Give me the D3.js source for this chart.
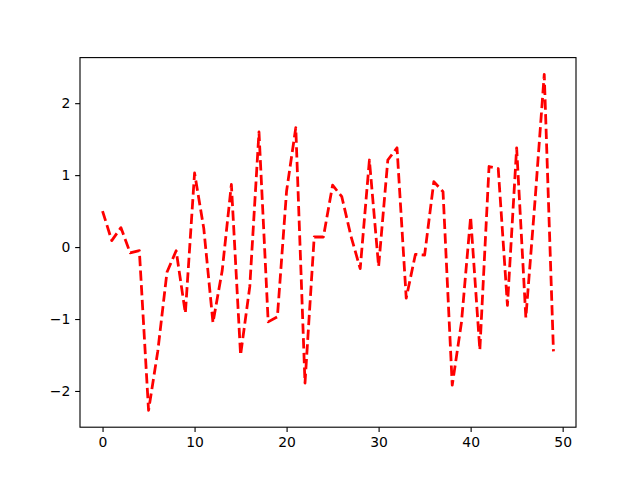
<!DOCTYPE html>
<html>
<head>
<meta charset="utf-8">
<script src="https://cdn.jsdelivr.net/npm/d3@7"></script>
<style>
html, body { margin: 0; padding: 0; background: #fff; }
svg { display: block; }
</style>
</head>
<body>
<svg id="chart" width="640" height="480"></svg>
<script>
const xValues = d3.range(0, 50);
const yValues = [
  0.50, 0.09, 0.27, -0.08, -0.05, -2.27, -1.45, -0.35, -0.05, -0.92,
  1.03, 0.26, -1.05, -0.33, 0.87, -1.50, -0.55, 1.60, -1.04, -0.97,
  0.78, 1.66, -1.89, 0.14, 0.14, 0.86, 0.70, 0.15, -0.30, 1.21,
  -0.27, 1.21, 1.38, -0.71, -0.10, -0.11, 0.91, 0.77, -1.92, -1.05,
  0.42, -1.43, 1.12, 1.09, -0.81, 1.38, -0.98, 0.65, 2.40, -1.45
];
const xTicks = [0, 10, 20, 30, 40, 50];
const yTicks = [-2, -1, 0, 1, 2];

const plotLeft = 80, plotRight = 576, plotTop = 57.6, plotBottom = 427.2;

const svg = d3.select("#chart");

function padded(ext) {
  const s = ext[1] - ext[0];
  return [ext[0] - 0.05 * s, ext[1] + 0.05 * s];
}

const x = d3.scaleLinear().domain(padded(d3.extent(xValues))).range([plotLeft, plotRight]);
const y = d3.scaleLinear().domain(padded(d3.extent(yValues))).range([plotBottom, plotTop]);

const data = xValues.map((d, i) => ({ x: d, y: yValues[i] }));

const fmt = d => d3.format("d")(d).replace("-", "\u2212");

const xAxis = svg.append("g")
  .attr("transform", `translate(0,${plotBottom})`)
  .call(d3.axisBottom(x).tickValues(xTicks).tickFormat(fmt).tickSizeOuter(0).tickSize(4.86).tickPadding(4.86));
const yAxis = svg.append("g")
  .attr("transform", `translate(${plotLeft},0)`)
  .call(d3.axisLeft(y).tickValues(yTicks).tickFormat(fmt).tickSizeOuter(0).tickSize(4.86).tickPadding(4.86));

[xAxis, yAxis].forEach(g => {
  g.select(".domain").remove();
  g.selectAll("line").attr("stroke", "#000").attr("stroke-width", 1.11);
  g.selectAll("text").attr("fill", "#000")
    .style("font-family", "'DejaVu Sans', sans-serif")
    .style("font-size", "13.9px");
});

const line = d3.line().x(d => x(d.x)).y(d => y(d.y));

svg.append("path")
  .datum(data)
  .attr("d", line)
  .attr("fill", "none")
  .attr("stroke", "#ff0000")
  .attr("stroke-width", 2.78)
  .attr("stroke-dasharray", "10.3,4.4")
  .attr("stroke-linejoin", "round");

svg.append("rect")
  .attr("x", plotLeft).attr("y", plotTop)
  .attr("width", plotRight - plotLeft).attr("height", plotBottom - plotTop)
  .attr("fill", "none")
  .attr("stroke", "#000")
  .attr("stroke-width", 1.11);
</script>
</body>
</html>
